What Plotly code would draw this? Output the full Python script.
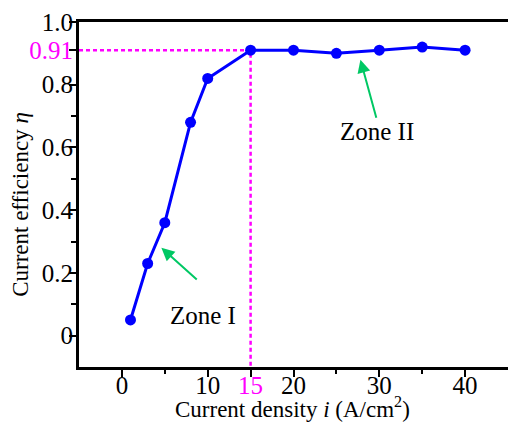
import plotly.graph_objects as go

# Current density (A/cm^2) and measured current efficiency
current_density = [1, 3, 5, 8, 10, 15, 20, 25, 30, 35, 40]
efficiency = [0.05, 0.23, 0.36, 0.68, 0.82, 0.91, 0.91, 0.90, 0.91, 0.92, 0.91]

# Threshold marking the transition between the two zones
threshold_x = 15
threshold_y = 0.91

x_ticks = [0, 10, 15, 20, 30, 40]
y_ticks = [0, 0.2, 0.4, 0.6, 0.8, 0.91, 1.0]

MAGENTA = "#ff00ff"
GREEN = "#00c864"
FONT = "Liberation Serif"

x_text = [f'<span style="color:{MAGENTA}">{v}</span>' if v == threshold_x else str(v)
          for v in x_ticks]
y_text = []
for v in y_ticks:
    if v == threshold_y:
        y_text.append(f'<span style="color:{MAGENTA}">{v}</span>')
    elif v == 0:
        y_text.append("0")
    else:
        y_text.append(f"{v:.1f}")

fig = go.Figure()

# Guide lines at the threshold
fig.add_trace(go.Scatter(
    x=[-5, threshold_x, threshold_x], y=[threshold_y, threshold_y, -0.1],
    mode="lines", line=dict(color=MAGENTA, width=2.5, dash="4px,3px"),
    hoverinfo="skip", showlegend=False, cliponaxis=False,
))

fig.add_trace(go.Scatter(
    x=current_density, y=efficiency, mode="lines+markers",
    line=dict(color="#0000ff", width=3),
    marker=dict(color="#0000ff", size=11),
    showlegend=False,
))

axis_common = dict(
    showline=True, linecolor="black", linewidth=3, mirror=True,
    ticks="outside", tickcolor="black", tickwidth=2, ticklen=7,
    showgrid=False, zeroline=False, automargin=False,
    tickfont=dict(family=FONT, size=25, color="black"),
)

fig.update_xaxes(
    range=[-5, 45], tickmode="array", tickvals=x_ticks, ticktext=x_text,
    minor=dict(tickvals=[5, 25, 35], ticks="outside", ticklen=4, tickwidth=2, tickcolor="black"),
    ticklabelstandoff=-13,
    **axis_common,
)
fig.update_yaxes(
    range=[-0.1, 1.0], tickmode="array", tickvals=y_ticks, ticktext=y_text,
    minor=dict(tickvals=[0.1, 0.3, 0.5, 0.7], ticks="outside", ticklen=5, tickwidth=2, tickcolor="black"),
    ticklabelstandoff=-9,
    **axis_common,
)

# Axis titles
fig.add_annotation(
    x=0.497, y=0, xref="paper", yref="paper", yanchor="middle", yshift=-40,
    text="Current density <i>i</i> (A/cm<sup>2</sup>)", showarrow=False,
    font=dict(family=FONT, size=23, color="black"),
)
fig.add_annotation(
    x=0, y=0.47, xref="paper", yref="paper", xanchor="center", xshift=-58,
    text="Current efficiency <i>η</i>", showarrow=False, textangle=-90,
    font=dict(family=FONT, size=23, color="black"),
)

# Zone annotations with arrows
fig.add_annotation(
    x=4.6, y=0.28, ax=8.9, ay=0.175, xref="x", yref="y", axref="x", ayref="y",
    showarrow=True, arrowhead=2, arrowsize=1.3, arrowwidth=2, arrowcolor=GREEN, text="",
)
fig.add_annotation(x=9.4, y=0.065, text="Zone I", showarrow=False,
                   font=dict(family=FONT, size=25, color="black"))
fig.add_annotation(
    x=27.8, y=0.88, ax=29.7, ay=0.69, xref="x", yref="y", axref="x", ayref="y",
    showarrow=True, arrowhead=2, arrowsize=1.3, arrowwidth=2, arrowcolor=GREEN, text="",
)
fig.add_annotation(x=29.7, y=0.65, text="Zone II", showarrow=False,
                   font=dict(family=FONT, size=25, color="black"))

fig.update_layout(
    width=508, height=422,
    margin=dict(l=79, r=0, t=22, b=55),
    plot_bgcolor="white", paper_bgcolor="white",
    font=dict(family=FONT, color="black"),
)

fig.write_html("out.html")
